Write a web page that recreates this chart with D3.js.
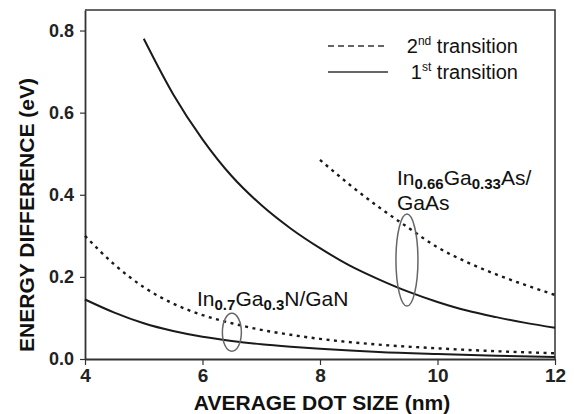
<!DOCTYPE html>
<html>
<head>
<meta charset="utf-8">
<script src="https://cdn.jsdelivr.net/npm/d3@7"></script>
<style>
  body { margin: 0; background: #fff; }
  svg { font-family: Arial, "Liberation Sans", sans-serif; }
</style>
</head>
<body>
<div class="chart"></div>
<script>
const width = 574, height = 414

// dot size (nm)
const sizesAs1 = [5, 5.5, 6, 6.5, 7, 7.5, 8, 8.5, 9, 9.5, 10, 10.5, 11, 11.5, 12]
const sizesAs2 = [8, 8.5, 9, 9.5, 10, 10.5, 11, 11.5, 12]
const sizesN = [4, 4.5, 5, 5.5, 6, 6.5, 7, 7.5, 8, 9, 10, 11, 12]

// energy difference (eV)
const inGaAs1st = [0.78, 0.645, 0.535, 0.445, 0.375, 0.318, 0.27, 0.228, 0.194, 0.164, 0.139, 0.118, 0.102, 0.088, 0.076]
const inGaAs2nd = [0.485, 0.425, 0.37, 0.32, 0.272, 0.236, 0.206, 0.18, 0.156]
const inGaN2nd = [0.30, 0.23, 0.175, 0.135, 0.107, 0.087, 0.071, 0.059, 0.049, 0.035, 0.026, 0.019, 0.014]
const inGaN1st = [0.145, 0.113, 0.087, 0.068, 0.054, 0.044, 0.036, 0.03, 0.025, 0.017, 0.012, 0.008, 0.005]

const xTicks = [4, 6, 8, 10, 12]
const yTicks = [0, 0.2, 0.4, 0.6, 0.8]

const svg = d3.select('.chart').append('svg')
    .attr('width', width)
    .attr('height', height)

const x = d3.scaleLinear().domain([4, 12]).range([85, 555])
const y = d3.scaleLinear().domain([0, 0.85]).range([359, 10])

// frame (top + right)
svg.append('path')
    .attr('d', `M${x(4)},${y(0.85)}H${x(12)}V${y(0)}`)
    .attr('fill', 'none')
    .attr('stroke', '#333')
    .attr('stroke-width', 1.5)

const xAxis = svg.append('g')
    .attr('transform', `translate(0,${y(0)})`)
    .call(d3.axisBottom(x).tickValues(xTicks).tickSize(6).tickSizeOuter(0).tickPadding(4))
xAxis.selectAll('text')
    .style('font-size', '19px')
    .style('font-weight', 'bold')
    .attr('fill', '#222')

const yAxis = svg.append('g')
    .attr('transform', `translate(${x(4)},0)`)
    .call(d3.axisLeft(y).tickValues(yTicks).tickFormat(d3.format('.1f')).tickSize(5).tickSizeOuter(0).tickPadding(6))
yAxis.selectAll('text')
    .style('font-size', '18px')
    .style('font-weight', 'bold')
    .attr('fill', '#222')

svg.selectAll('.domain').attr('stroke', '#333').attr('stroke-width', 1.8)
svg.selectAll('.tick line').attr('stroke', '#333').attr('stroke-width', 1.2)

// axis titles
svg.append('text')
    .text('AVERAGE DOT SIZE (nm)')
    .attr('x', 322)
    .attr('y', 410)
    .style('text-anchor', 'middle')
    .style('font-size', '21px')
    .style('font-weight', 'bold')
    .attr('fill', '#111')

svg.append('text')
    .text('ENERGY DIFFERENCE (eV)')
    .attr('transform', 'translate(34,215) rotate(-90)')
    .style('text-anchor', 'middle')
    .style('font-size', '21px')
    .style('font-weight', 'bold')
    .attr('fill', '#111')

// curves
const line = d3.line()
    .x(d => x(d[0]))
    .y(d => y(d[1]))
    .curve(d3.curveMonotoneX)

const series = [
    { xs: sizesAs1, ys: inGaAs1st, dashed: false },
    { xs: sizesAs2, ys: inGaAs2nd, dashed: true },
    { xs: sizesN, ys: inGaN2nd, dashed: true },
    { xs: sizesN, ys: inGaN1st, dashed: false }
]

svg.append('g').attr('class', 'curves')
    .selectAll('path')
    .data(series)
    .enter().append('path')
    .attr('d', d => line(d.xs.map((v, i) => [v, d.ys[i]])))
    .attr('fill', 'none')
    .attr('stroke', '#1a1a1a')
    .attr('stroke-width', d => d.dashed ? 2.4 : 2)
    .attr('stroke-dasharray', d => d.dashed ? '3,4.5' : null)

// ellipses marking the pairs
const marks = [
    { cx: 9.48, cy: 0.241, rx: 11, ry: 46 },
    { cx: 6.5, cy: 0.065, rx: 9.5, ry: 19 }
]
svg.selectAll('ellipse')
    .data(marks)
    .enter().append('ellipse')
    .attr('cx', d => x(d.cx))
    .attr('cy', d => y(d.cy))
    .attr('rx', d => d.rx)
    .attr('ry', d => d.ry)
    .attr('fill', 'none')
    .attr('stroke', '#666')
    .attr('stroke-width', 1.5)

// material labels with subscripts
const gaAsParts = [['In'], ['0.66', true], ['Ga'], ['0.33', true], ['As/']]
const ganParts = [['In'], ['0.7', true], ['Ga'], ['0.3', true], ['N/GaN']]

function subLabel(parts, lx, ly) {
    const t = svg.append('text')
        .attr('x', lx)
        .attr('y', ly)
        .style('font-size', '21px')
        .attr('fill', '#111')
    let down = false
    parts.forEach(p => {
        const s = t.append('tspan').text(p[0])
        if (p[1]) {
            s.style('font-size', '15px').style('font-weight', 'bold').attr('dy', down ? 0 : 4)
            down = true
        } else {
            s.attr('dy', down ? -4 : 0)
            down = false
        }
    })
}

subLabel(gaAsParts, 397, 185)
svg.append('text')
    .text('GaAs')
    .attr('x', 397)
    .attr('y', 210)
    .style('font-size', '21px')
    .attr('fill', '#111')
subLabel(ganParts, 197, 306)

// legend
const legendItems = [
    { num: '2', sup: 'nd', text: ' transition', dashed: true },
    { num: '1', sup: 'st', text: ' transition', dashed: false }
]
const legend = svg.append('g').attr('class', 'legend')
    .selectAll('g')
    .data(legendItems)
    .enter().append('g')
    .attr('transform', (d, i) => `translate(0,${46 + i * 26})`)

legend.append('line')
    .attr('x1', 328)
    .attr('x2', 388)
    .attr('stroke', '#333')
    .attr('stroke-width', 1.3)
    .attr('stroke-dasharray', d => d.dashed ? '6,4' : null)

const lt = legend.append('text')
    .attr('x', 518)
    .attr('y', 7)
    .style('text-anchor', 'end')
    .style('font-size', '20px')
    .attr('fill', '#111')
lt.append('tspan').text(d => d.num)
lt.append('tspan').text(d => d.sup).style('font-size', '12px').attr('dy', -8)
lt.append('tspan').text(d => d.text).attr('dy', 8)
</script>
</body>
</html>
